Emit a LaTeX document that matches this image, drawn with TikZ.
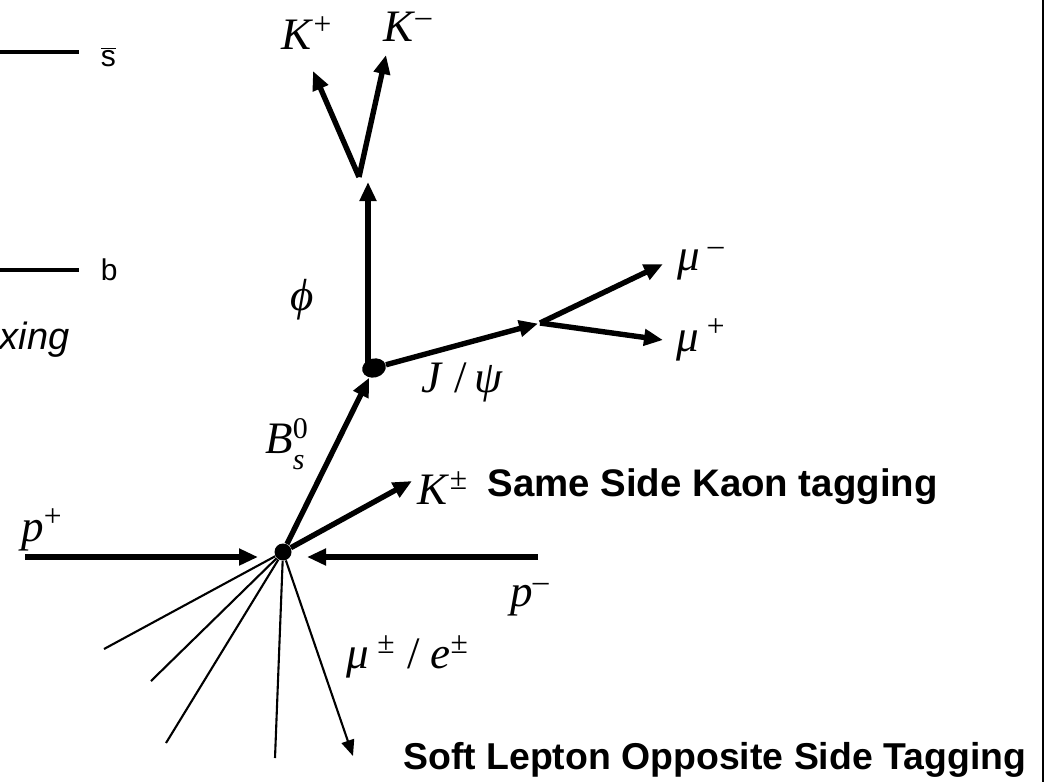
\documentclass[tikz,border=0pt]{standalone}
\usepackage{fontspec}
\setmainfont{Liberation Serif}
\newfontfamily\arialfont{Liberation Sans}
\usetikzlibrary{arrows.meta,shapes.geometric}
\definecolor{Ink}{HTML}{000000}
\newcommand{\ptl}[2]{\textit{#1}\textsuperscript{#2}}

\begin{document}
\begin{tikzpicture}[x=0.5pt,y=-0.5pt,every node/.style={text=Ink},
  track/.style={Ink,line width=2.7pt,-{Triangle[length=9.5pt,width=8pt]}},
  soft/.style={Ink,line width=1.05pt},
  vtx/.style={circle,fill=Ink,inner sep=0pt,minimum size=8.5pt},
  lbl/.style={font=\fontsize{22.5}{24}\selectfont,inner sep=0pt},
  quark/.style={font=\arialfont\fontsize{15}{17}\selectfont,inner sep=0pt},
  tag/.style={font=\arialfont\bfseries\fontsize{19.2}{21}\selectfont,inner sep=0pt,anchor=west}]
\useasboundingbox (0,0) rectangle (1052,782);
\draw[line width=0.8pt] (1043,0)--(1043,782);
% quark lines
\draw[line width=1.9pt] (0,52)--(79,52) node[quark,anchor=west,xshift=10pt,yshift=-2.5pt] (sbar) {$\overline{\mbox{s}}$};
\draw[line width=1.9pt] (0,270)--(79,270) node[quark,anchor=west,xshift=10pt] (bq) {b};
\node[font=\arialfont\itshape\fontsize{19}{21}\selectfont,anchor=east,inner sep=0pt] (mix) at (70,340) {xing};
% vertices
\node[vtx] (pv) at (283,552) {};
\node[ellipse,fill=Ink,inner sep=0pt,minimum width=12pt,minimum height=9.5pt,rotate=15] (sv) at (374,368) {};
\coordinate (phitip) at (368,182);
\coordinate (phidec) at (359,177);
\coordinate (jdec) at (540,323);
\coordinate (kp) at (313,71);
\coordinate (km) at (386,55);
\coordinate (mum) at (663,264);
\coordinate (mup) at (663,340);
\coordinate (kpm) at (412,481);
\coordinate (pin) at (25,557);
\coordinate (pout) at (538,557);
\coordinate (lep) at (353,756);
% tracks
\draw[track] (pv)--(sv);
\draw[track] (phitip |- sv)--(phitip);
\draw[track] (phidec)--(kp);
\draw[track] (phidec)--(km);
\draw[track,shorten >=1pt] (sv)--(jdec);
\draw[track] (jdec)--(mum);
\draw[track] (jdec)--(mup);
\draw[track] (pv)--(kpm);
\draw[track] (pin)--([xshift=-12.5pt]pv |- pin);
\draw[track] (pout)--([xshift=12pt]pv |- pout);
\foreach \e in {(104,649),(151,681),(166,743),(275,758)}
  \draw[soft] (pv)--\e;
\draw[soft,-{Triangle[length=8pt,width=6.5pt]}] (pv)--(lep);
% labels
\node[lbl] (lkp) at (307,33) {\ptl{K}{+}};
\node[lbl] (lkm) at (408,27) {\ptl{K}{--}};
\node[lbl] (lphi) at (302,300) {\textit{ϕ}};
\node[lbl] (ljpsi) at (462,382) {\textit{J} /\,\textit{ψ}};
\node[lbl] (lmum) at (701,264) {\ptl{μ}{ --}};
\node[lbl] (lmup) at (701,340) {\ptl{μ}{ +}};
\node[lbl,anchor=base west] (lbs) at (265,453) {\textit{B}\rlap{\raisebox{7.5pt}{\fontsize{15}{16}\selectfont 0}}\raisebox{-8pt}{\fontsize{15}{16}\selectfont\textit{s}}};
\node[lbl] (lkpm) at (443,488) {\ptl{K}{±}};
\node[lbl] (lpp) at (42,530) {\ptl{p}{+}};
\node[lbl] (lpm) at (530,600) {\ptl{p}{--}};
\node[lbl] (llep) at (408,657) {\ptl{μ}{ ±} / \ptl{e}{±}};
\node[tag] (ssk) at (487,487) {Same Side Kaon tagging};
\node[tag,font=\arialfont\bfseries\fontsize{18.7}{21}\selectfont] (slo) at (403,760) {Soft Lepton Opposite Side Tagging};
\end{tikzpicture}
\end{document}
